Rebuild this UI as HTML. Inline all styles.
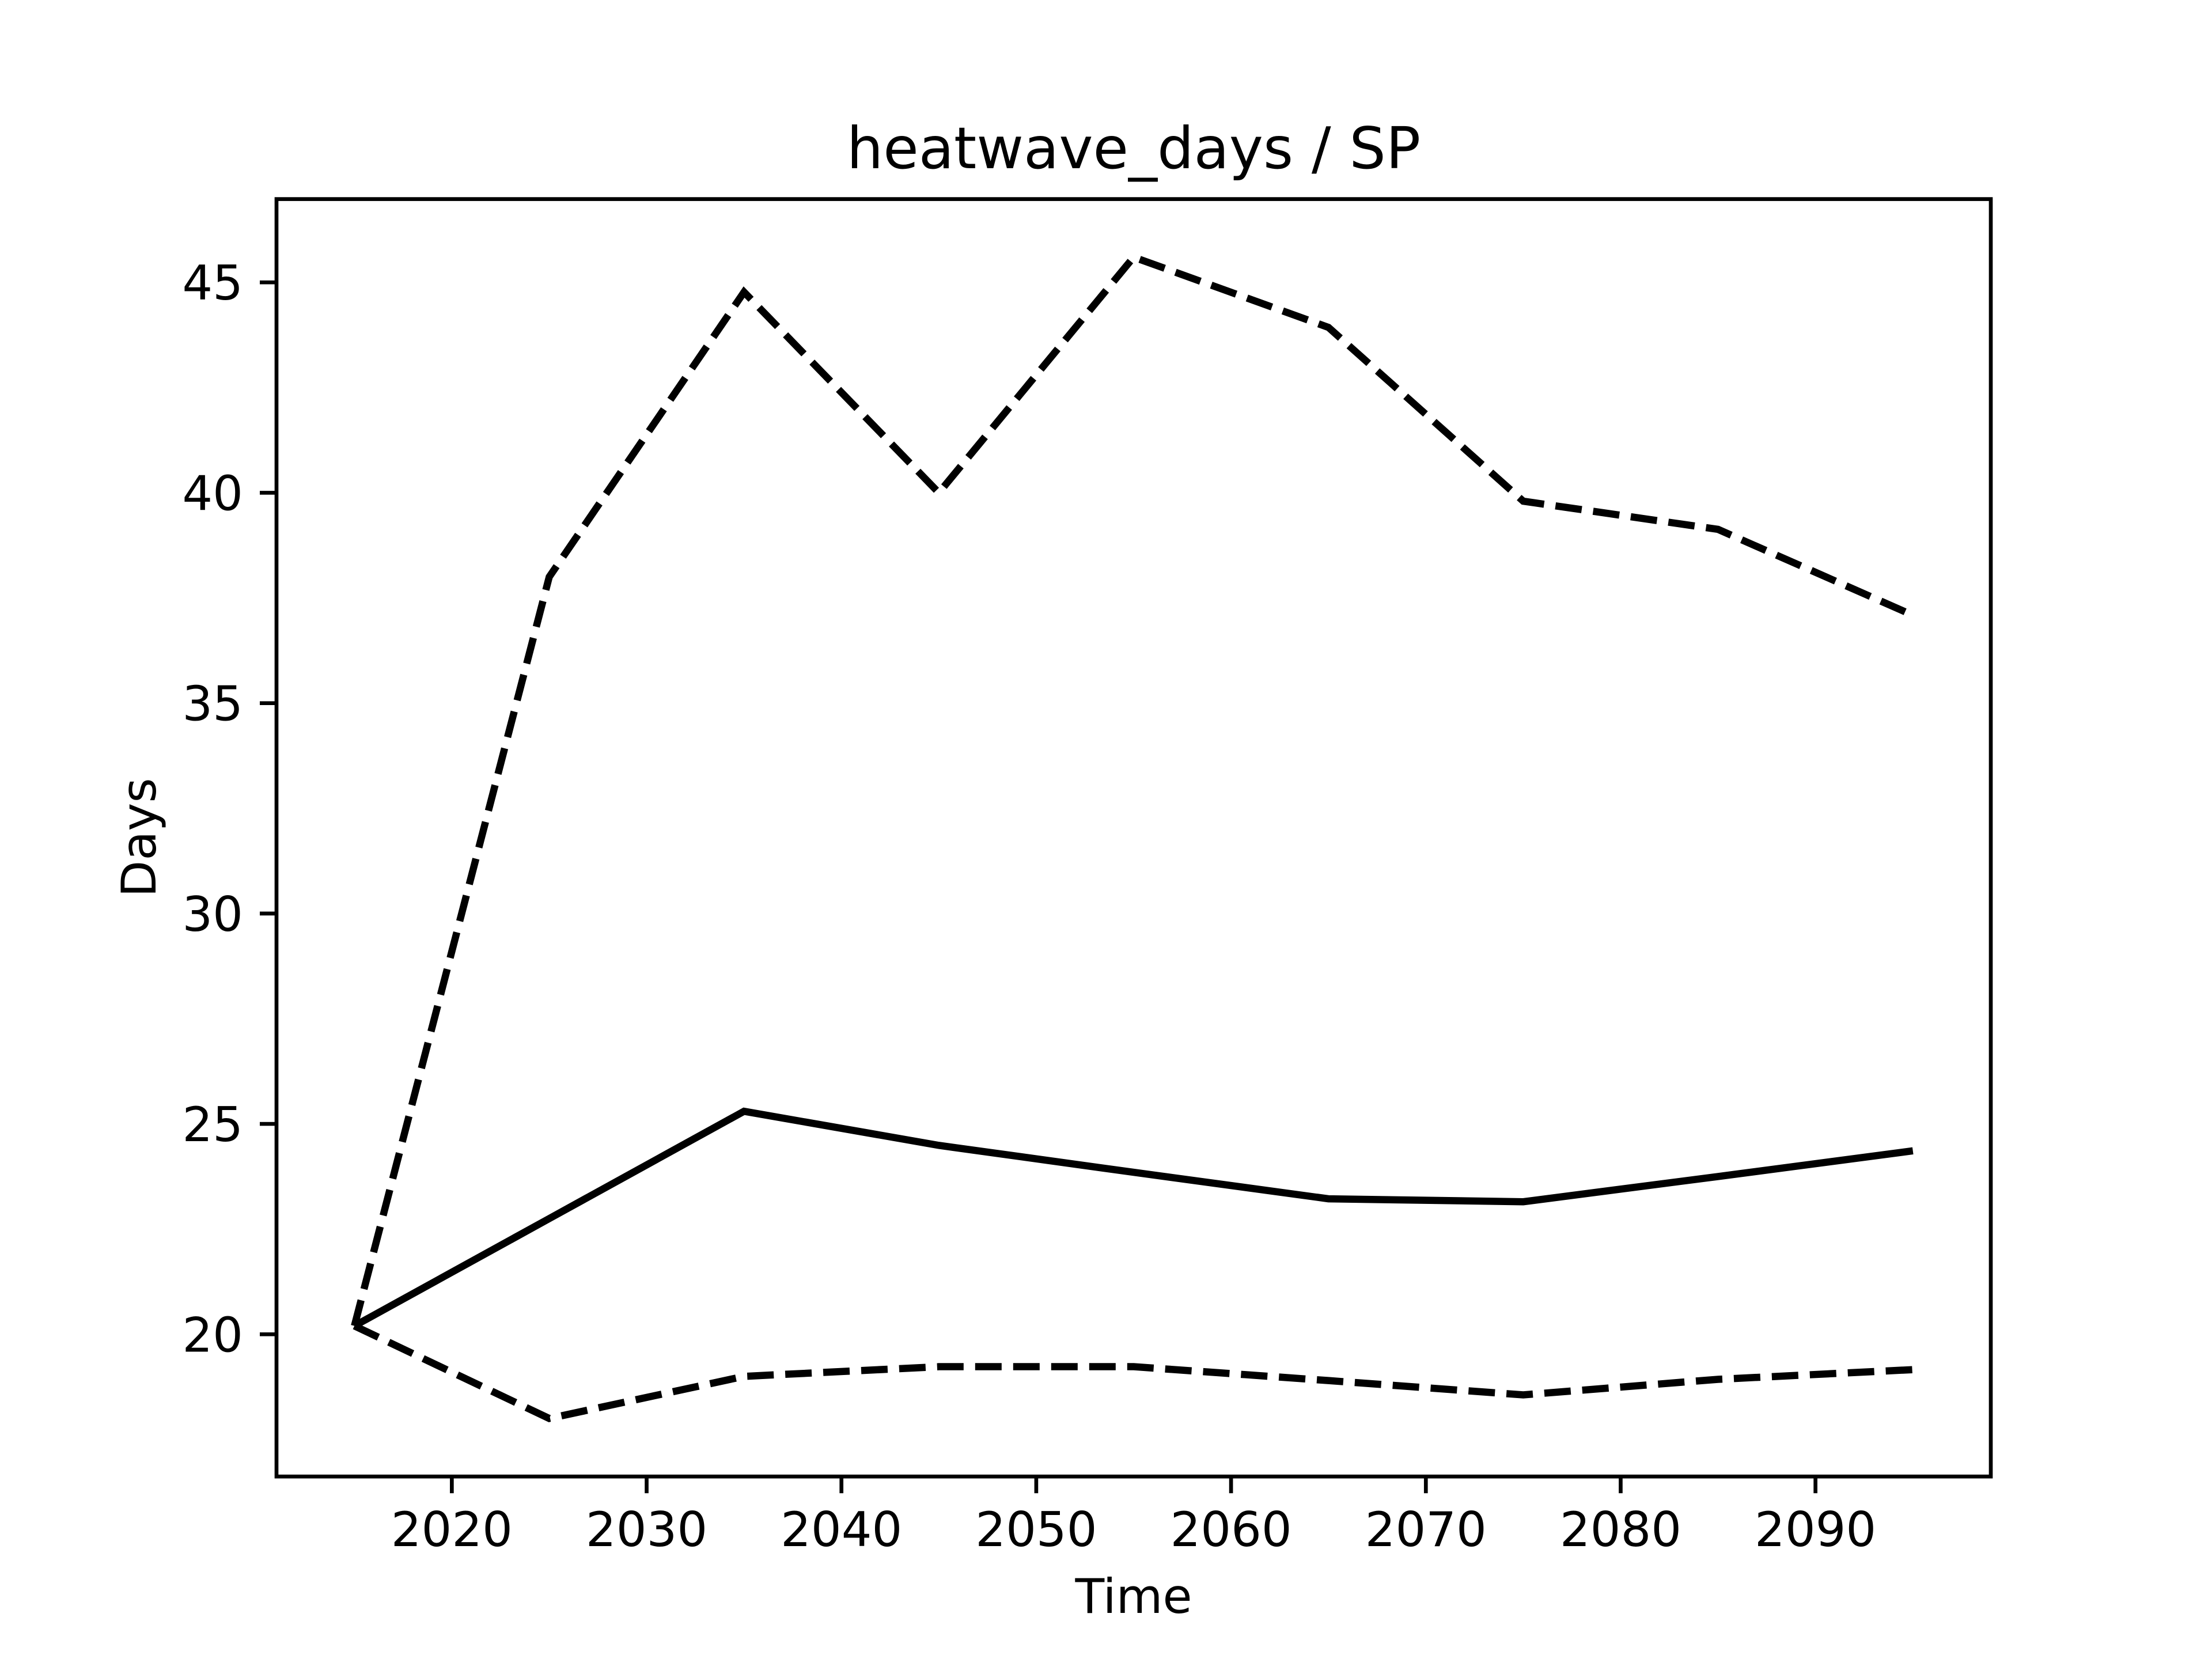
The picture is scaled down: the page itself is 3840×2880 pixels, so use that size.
<!DOCTYPE html>
<html><head><meta charset="utf-8"><style>
html,body{margin:0;padding:0;background:#fff}
svg{display:block}
text{font-family:"DejaVu Sans","Liberation Sans",sans-serif;fill:#000}
</style></head><body>
<svg id="chart" width="3840" height="2880" viewBox="0 0 3840 2880" xmlns="http://www.w3.org/2000/svg">
<rect width="3840" height="2880" fill="#fff"/>
<text x="1968" y="292" font-size="100" text-anchor="middle">heatwave_days / SP</text>
<g id="plot"></g>
<rect x="480" y="345.6" width="2976" height="2217.6" fill="none" stroke="#000" stroke-width="6.67"/>
<text x="1968" y="2800" font-size="83" text-anchor="middle">Time</text>
<text x="0" y="0" font-size="83" text-anchor="middle" transform="translate(270,1454) rotate(-90)">Days</text>
</svg>
<script>
const years = [2015,2025,2035,2045,2055,2065,2075,2085,2095];
const upperValues = [20.2,38.0,44.77,40.0,45.6,43.93,39.8,39.13,37.09];
const meanValues = [20.2,22.75,25.3,24.49,23.85,23.22,23.15,23.75,24.36];
const lowerValues = [20.2,18.0,19.0,19.23,19.23,18.9,18.56,18.93,19.16];
const xTicks = [2020,2030,2040,2050,2060,2070,2080,2090];
const yTicks = [20,25,30,35,40,45];

const NS = "http://www.w3.org/2000/svg";
const L=480,R=3456,T=345.6,B=2563.2;
const xMin=2011,xMax=2099;
const all=upperValues.concat(meanValues,lowerValues);
const dMin=Math.min(...all),dMax=Math.max(...all),pad=(dMax-dMin)*0.05;
const yMin=dMin-pad,yMax=dMax+pad;
const xs=v=>L+(v-xMin)/(xMax-xMin)*(R-L);
const ys=v=>B-(v-yMin)/(yMax-yMin)*(B-T);
const g=document.getElementById('plot');

xTicks.forEach(t=>{
  const ln=document.createElementNS(NS,'line');
  
  
  ln.setAttribute('x1',xs(t));ln.setAttribute('x2',xs(t));
  ln.setAttribute('y1',B);ln.setAttribute('y2',B+29);
  ln.setAttribute('stroke','#000');ln.setAttribute('stroke-width','6.67');
  g.appendChild(ln);
  const tx=document.createElementNS(NS,'text');
  
  
  tx.setAttribute('x',xs(t));tx.setAttribute('y',B+121);
  tx.setAttribute('font-size','83');tx.setAttribute('text-anchor','middle');
  tx.textContent=t;
  g.appendChild(tx);
});
yTicks.forEach(t=>{
  const ln=document.createElementNS(NS,'line');
  
  
  ln.setAttribute('x1',L-29);ln.setAttribute('x2',L);
  ln.setAttribute('y1',ys(t));ln.setAttribute('y2',ys(t));
  ln.setAttribute('stroke','#000');ln.setAttribute('stroke-width','6.67');
  g.appendChild(ln);
  const tx=document.createElementNS(NS,'text');
  
  
  tx.setAttribute('x',L-58);tx.setAttribute('y',ys(t)+30);
  tx.setAttribute('font-size','83');tx.setAttribute('text-anchor','end');
  tx.textContent=t;
  g.appendChild(tx);
});
function line(vals,name,dash){
  const p=document.createElementNS(NS,'polyline');
  
  
  p.setAttribute('points',vals.map((v,i)=>xs(years[i])+','+ys(v)).join(' '));
  p.setAttribute('fill','none');p.setAttribute('stroke','#000');
  p.setAttribute('stroke-width','12.5');
  if(dash)p.setAttribute('stroke-dasharray','46 20');
  g.appendChild(p);
}
line(upperValues,'upper-bound-line',true);
line(meanValues,'mean-line',false);
line(lowerValues,'lower-bound-line',true);
</script>
</body></html>
